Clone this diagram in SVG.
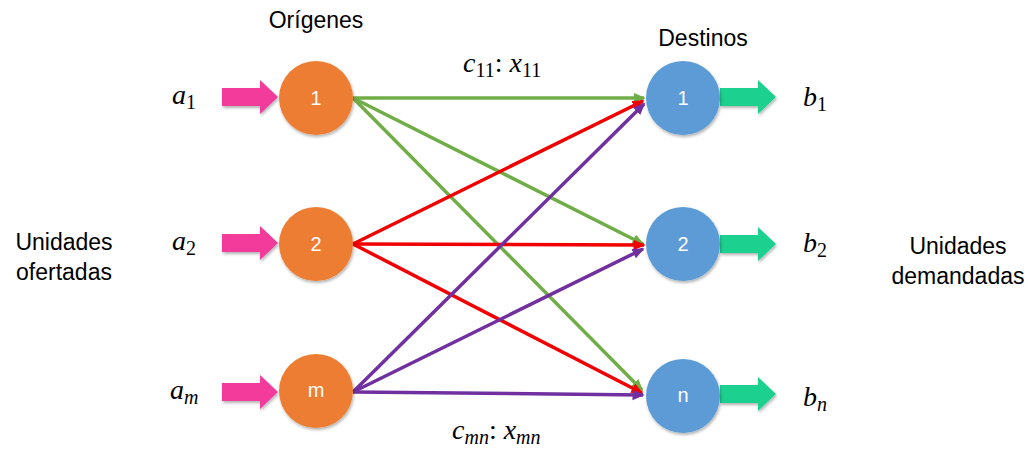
<svg xmlns="http://www.w3.org/2000/svg" width="1028" height="450" viewBox="0 0 1028 450">
<style>
.orig{fill:#ED7D31;}
.dest{fill:#5B9BD5;}
.num{font-family:"Liberation Sans",Arial,sans-serif;font-size:20px;fill:#fff;text-anchor:middle;}
.lbl{font-family:"Liberation Sans",Arial,sans-serif;font-size:23px;fill:#000;text-anchor:middle;}
.math{font-family:"Liberation Serif","Times New Roman",serif;font-size:28px;font-style:italic;fill:#000;}
.sub{font-size:20px;font-style:normal;}
.subi{font-size:20px;font-style:italic;}
.g{stroke:#70AD47;stroke-width:3.5;fill:none;marker-end:url(#ag);}
.r{stroke:#F00000;stroke-width:3.5;fill:none;marker-end:url(#ar);}
.p{stroke:#7030A0;stroke-width:3.5;fill:none;marker-end:url(#ap);}
.pink{fill:#F23A9B;}
.teal{fill:#1FD08F;}
</style>
<defs>
<marker id="ag" markerWidth="4" markerHeight="4" refX="3" refY="1.5" orient="auto" markerUnits="strokeWidth"><path d="M0,0 L3.5,1.5 L0,3 z" fill="#70AD47"/></marker>
<marker id="ar" markerWidth="4" markerHeight="4" refX="3" refY="1.5" orient="auto" markerUnits="strokeWidth"><path d="M0,0 L3.5,1.5 L0,3 z" fill="#F00000"/></marker>
<marker id="ap" markerWidth="4" markerHeight="4" refX="3" refY="1.5" orient="auto" markerUnits="strokeWidth"><path d="M0,0 L3.5,1.5 L0,3 z" fill="#7030A0"/></marker>
<filter id="sh" x="-20%" y="-20%" width="150%" height="150%"><feDropShadow dx="1" dy="2" stdDeviation="1.5" flood-color="#000" flood-opacity="0.3"/></filter>
<path id="inArrow" d="M0,-9 L38,-9 L38,-17 L56,0 L38,17 L38,9 L0,9 z"/>
</defs>

<g id="connectors">
<line class="g" x1="353" y1="98" x2="644" y2="98"/>
<line class="g" x1="353" y1="98" x2="643" y2="244"/>
<line class="g" x1="353" y1="98" x2="642" y2="390"/>
<line class="r" x1="353" y1="244" x2="643" y2="101"/>
<line class="r" x1="353" y1="244" x2="644" y2="245"/>
<line class="r" x1="353" y1="244" x2="642" y2="393"/>
<line class="p" x1="353" y1="392" x2="644" y2="104"/>
<line class="p" x1="353" y1="392" x2="643" y2="249"/>
<line class="p" x1="353" y1="392" x2="643" y2="395"/>
</g>

<g id="supply-arrows">
<use href="#inArrow" class="pink" x="222" y="97" filter="url(#sh)"/>
<use href="#inArrow" class="pink" x="222" y="243" filter="url(#sh)"/>
<use href="#inArrow" class="pink" x="222" y="392" filter="url(#sh)"/>
</g>
<g id="demand-arrows">
<use href="#inArrow" class="teal" x="720" y="97" filter="url(#sh)"/>
<use href="#inArrow" class="teal" x="720" y="244" filter="url(#sh)"/>
<use href="#inArrow" class="teal" x="720" y="394" filter="url(#sh)"/>
</g>

<g id="o1"><circle class="orig" cx="316" cy="98" r="37" filter="url(#sh)"/><text class="num" x="316" y="105">1</text></g>
<g id="o2"><circle class="orig" cx="316" cy="244" r="37" filter="url(#sh)"/><text class="num" x="316" y="251">2</text></g>
<g id="om"><circle class="orig" cx="316" cy="391" r="37" filter="url(#sh)"/><text class="num" x="316" y="397">m</text></g>
<g id="d1"><circle class="dest" cx="683" cy="98" r="37" filter="url(#sh)"/><text class="num" x="683" y="105">1</text></g>
<g id="d2"><circle class="dest" cx="683" cy="244" r="37" filter="url(#sh)"/><text class="num" x="683" y="251">2</text></g>
<g id="dn"><circle class="dest" cx="683" cy="396" r="37" filter="url(#sh)"/><text class="num" x="683" y="402">n</text></g>

<g id="labels">
<text class="lbl" x="316" y="28">Orígenes</text>
<text class="lbl" x="703" y="46">Destinos</text>
<text class="lbl" x="64" y="250">Unidades</text>
<text class="lbl" x="64" y="280">ofertadas</text>
<text class="lbl" x="958" y="254">Unidades</text>
<text class="lbl" x="958" y="284">demandadas</text>
<text class="math" x="172" y="104">a<tspan class="sub" dy="5">1</tspan></text>
<text class="math" x="172" y="250">a<tspan class="sub" dy="5">2</tspan></text>
<text class="math" x="170" y="399">a<tspan class="subi" dy="5">m</tspan></text>
<text class="math" x="803" y="106">b<tspan class="sub" dy="5">1</tspan></text>
<text class="math" x="803" y="252">b<tspan class="sub" dy="5">2</tspan></text>
<text class="math" x="803" y="406">b<tspan class="subi" dy="5">n</tspan></text>
<text class="math" x="463" y="72">c<tspan class="sub" dy="5">11</tspan><tspan dy="-5" font-style="normal">: </tspan>x<tspan class="sub" dy="5">11</tspan></text>
<text class="math" x="452" y="439">c<tspan class="subi" dy="5">mn</tspan><tspan dy="-5" font-style="normal">: </tspan>x<tspan class="subi" dy="5">mn</tspan></text>
</g>
</svg>
